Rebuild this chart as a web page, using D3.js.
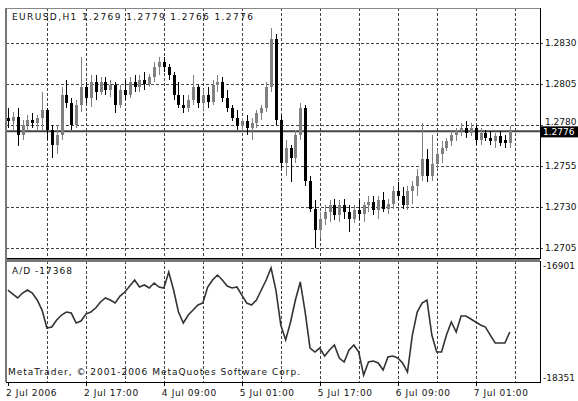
<!DOCTYPE html>
<html>
<head>
<meta charset="utf-8">
<script src="https://cdn.jsdelivr.net/npm/d3@7"></script>
<style>
  body { margin: 0; background: #fff; }
  svg { display: block; }
  text { font-family: "DejaVu Sans", sans-serif; font-size: 9px; fill: #111; }
</style>
</head>
<body>
<div id="chart"></div>
<script>
// EURUSD H1 candles, 3 Jul 2006 01:00 onwards
const open = [1.2784, 1.2782, 1.2785, 1.2774, 1.2780, 1.2783, 1.2781, 1.2784, 1.2789, 1.2777,
  1.2768, 1.2774, 1.2798, 1.2793, 1.2780, 1.2792, 1.2803, 1.2796, 1.2806, 1.2800,
  1.2806, 1.2801, 1.2804, 1.2792, 1.2801, 1.2798, 1.2806, 1.2803, 1.2807, 1.2805,
  1.2809, 1.2815, 1.2818, 1.2815, 1.2810, 1.2798, 1.2792, 1.2790, 1.2795, 1.2803,
  1.2793, 1.2798, 1.2794, 1.2804, 1.2806, 1.2796, 1.2790, 1.2784, 1.2779, 1.2782,
  1.2778, 1.2781, 1.2787, 1.2790, 1.2803, 1.2832, 1.2783, 1.2757, 1.2766, 1.2760,
  1.2774, 1.2790, 1.2746, 1.2729, 1.2716, 1.2723, 1.2727, 1.2731, 1.2725, 1.2731,
  1.2727, 1.2723, 1.2728, 1.2726, 1.2731, 1.2733, 1.2728, 1.2734, 1.2729, 1.2732,
  1.2740, 1.2737, 1.2731, 1.2740, 1.2743, 1.2749, 1.2759, 1.2749, 1.2756, 1.2762,
  1.2766, 1.2770, 1.2774, 1.2777, 1.2778, 1.2775, 1.2778, 1.2771, 1.2775, 1.2772,
  1.2770, 1.2773, 1.2771, 1.2769]
const high = [1.2790, 1.2788, 1.2790, 1.2783, 1.2786, 1.2787, 1.2786, 1.2800, 1.2790, 1.2780,
  1.2780, 1.2803, 1.2807, 1.2796, 1.2795, 1.2821, 1.2806, 1.2810, 1.2810, 1.2809,
  1.2809, 1.2807, 1.2806, 1.2804, 1.2807, 1.2809, 1.2810, 1.2810, 1.2812, 1.2811,
  1.2818, 1.2821, 1.2821, 1.2817, 1.2812, 1.2806, 1.2798, 1.2798, 1.2810, 1.2804,
  1.2801, 1.2803, 1.2807, 1.2810, 1.2809, 1.2801, 1.2792, 1.2789, 1.2784, 1.2786,
  1.2784, 1.2789, 1.2792, 1.2806, 1.2839, 1.2835, 1.2786, 1.2771, 1.2768, 1.2777,
  1.2793, 1.2792, 1.2749, 1.2734, 1.2727, 1.2731, 1.2734, 1.2735, 1.2734, 1.2735,
  1.2731, 1.2731, 1.2734, 1.2733, 1.2737, 1.2737, 1.2737, 1.2739, 1.2735, 1.2743,
  1.2745, 1.2742, 1.2743, 1.2746, 1.2753, 1.2781, 1.2765, 1.2774, 1.2765, 1.2770,
  1.2772, 1.2777, 1.2778, 1.2781, 1.2782, 1.2781, 1.2780, 1.2778, 1.2777, 1.2776,
  1.2775, 1.2776, 1.2774, 1.2779]
const low = [1.2778, 1.2777, 1.2767, 1.2771, 1.2777, 1.2778, 1.2777, 1.2776, 1.2771, 1.2760,
  1.2762, 1.2771, 1.2790, 1.2777, 1.2778, 1.2788, 1.2793, 1.2791, 1.2795, 1.2798,
  1.2798, 1.2797, 1.2787, 1.2790, 1.2795, 1.2796, 1.2800, 1.2800, 1.2801, 1.2803,
  1.2806, 1.2810, 1.2812, 1.2807, 1.2795, 1.2790, 1.2787, 1.2788, 1.2792, 1.2790,
  1.2789, 1.2790, 1.2792, 1.2800, 1.2794, 1.2788, 1.2782, 1.2777, 1.2776, 1.2774,
  1.2771, 1.2778, 1.2783, 1.2788, 1.2800, 1.2780, 1.2754, 1.2749, 1.2745, 1.2757,
  1.2771, 1.2743, 1.2727, 1.2705, 1.2711, 1.2719, 1.2721, 1.2722, 1.2721, 1.2723,
  1.2715, 1.2720, 1.2722, 1.2721, 1.2727, 1.2725, 1.2723, 1.2727, 1.2726, 1.2729,
  1.2734, 1.2729, 1.2728, 1.2732, 1.2737, 1.2746, 1.2745, 1.2746, 1.2753, 1.2757,
  1.2764, 1.2767, 1.2770, 1.2773, 1.2772, 1.2773, 1.2768, 1.2768, 1.2770, 1.2768,
  1.2766, 1.2767, 1.2766, 1.2766]
const close = [1.2782, 1.2785, 1.2774, 1.2780, 1.2783, 1.2781, 1.2784, 1.2789, 1.2777, 1.2768,
  1.2774, 1.2798, 1.2793, 1.2780, 1.2792, 1.2803, 1.2796, 1.2806, 1.2800, 1.2806,
  1.2801, 1.2804, 1.2792, 1.2801, 1.2798, 1.2806, 1.2803, 1.2807, 1.2805, 1.2809,
  1.2815, 1.2818, 1.2815, 1.2810, 1.2798, 1.2792, 1.2790, 1.2795, 1.2803, 1.2793,
  1.2798, 1.2794, 1.2804, 1.2806, 1.2796, 1.2790, 1.2784, 1.2779, 1.2782, 1.2778,
  1.2781, 1.2787, 1.2790, 1.2803, 1.2832, 1.2783, 1.2757, 1.2766, 1.2760, 1.2774,
  1.2790, 1.2746, 1.2729, 1.2716, 1.2723, 1.2727, 1.2731, 1.2725, 1.2731, 1.2727,
  1.2723, 1.2728, 1.2726, 1.2731, 1.2733, 1.2728, 1.2734, 1.2729, 1.2732, 1.2740,
  1.2737, 1.2731, 1.2740, 1.2743, 1.2749, 1.2759, 1.2749, 1.2756, 1.2762, 1.2766,
  1.2770, 1.2774, 1.2777, 1.2778, 1.2775, 1.2778, 1.2771, 1.2775, 1.2772, 1.2770,
  1.2773, 1.2769, 1.2769, 1.2776]

// Accumulation/Distribution, one value per bar
const ad = [-17212, -17264, -17315, -17251, -17212, -17251, -17341, -17471, -17704, -17691,
  -17600, -17536, -17497, -17510, -17639, -17613, -17523, -17497, -17445, -17367,
  -17315, -17341, -17380, -17290, -17238, -17160, -17082, -17173, -17147, -17186,
  -17121, -17173, -17186, -16979, -17212, -17497, -17639, -17536, -17471, -17406,
  -17380, -17173, -17082, -17018, -17082, -17160, -17186, -17173, -17277, -17380,
  -17406, -17341, -17212, -17082, -16927, -17212, -17665, -17859, -17626, -17341,
  -17108, -17497, -17963, -18015, -17963, -18067, -17989, -17924, -18092, -18144,
  -17989, -17924, -18015, -18313, -18144, -18131, -18157, -18248, -18079, -18067,
  -18092, -18157, -18274, -17795, -17497, -17380, -17341, -17795, -18015, -18015,
  -17795, -17626, -17756, -17548, -17548, -17587, -17626, -17665, -17691, -17795,
  -17898, -17898, -17898, -17756]

const priceTicks = [1.2830, 1.2805, 1.2780, 1.2755, 1.2730, 1.2705]
const adTicks = [-16901, -18351]
const timeTickBars = [0, 16, 32, 48, 64, 80, 96]
const timeTickLabels = ['2 Jul 2006', '2 Jul 17:00', '4 Jul 09:00', '5 Jul 01:00',
  '5 Jul 17:00', '6 Jul 09:00', '7 Jul 01:00']
const gridBars = [8, 16, 24, 32, 40, 48, 56, 64, 72, 80, 88, 96, 104]
const lastPrice = 1.2776

const W = 578, H = 401
const left = 6, right = 540
const mainTop = 8, mainBottom = 258
const subTop = 261, subBottom = 382

const svg = d3.select('#chart').append('svg')
  .attr('width', W).attr('height', H)

const x = d3.scaleLinear().domain([-0.4, 109.2]).range([left, right])
const y = d3.scaleLinear().domain([1.2699, 1.2851]).range([mainBottom, mainTop])
const yAd = d3.scaleLinear().domain([-18351, -16901]).range([378, 266])

const bars = d3.range(open.length).map(i => ({
  i, o: open[i], h: high[i], l: low[i], c: close[i]
}))

// grid
const grid = svg.append('g')
  .attr('stroke', '#444').attr('stroke-width', 1)
  .attr('stroke-dasharray', '3,2').attr('shape-rendering', 'crispEdges')

grid.selectAll('.hg').data(priceTicks).enter().append('line')
  .attr('x1', left).attr('x2', right + 3)
  .attr('y1', d => Math.round(y(d)) + 0.5).attr('y2', d => Math.round(y(d)) + 0.5)

grid.selectAll('.vg').data(gridBars).enter().append('line')
  .attr('x1', d => Math.round(x(d)) + 0.5).attr('x2', d => Math.round(x(d)) + 0.5)
  .attr('y1', mainTop).attr('y2', mainBottom)

grid.selectAll('.vg2').data(gridBars).enter().append('line')
  .attr('x1', d => Math.round(x(d)) + 0.5).attr('x2', d => Math.round(x(d)) + 0.5)
  .attr('y1', subTop).attr('y2', subBottom)

// current price line
svg.append('line')
  .attr('x1', left).attr('x2', right)
  .attr('y1', y(lastPrice)).attr('y2', y(lastPrice))
  .attr('stroke', '#444').attr('stroke-width', 2)

// candles
const colour = d => d.c >= d.o ? '#808080' : '#000'
const candles = svg.append('g').attr('shape-rendering', 'crispEdges')

candles.selectAll('.wick').data(bars).enter().append('line')
  .attr('x1', d => Math.round(x(d.i)) + 0.5).attr('x2', d => Math.round(x(d.i)) + 0.5)
  .attr('y1', d => y(d.h)).attr('y2', d => y(d.l))
  .attr('stroke', colour)

candles.selectAll('.body').data(bars).enter().append('rect')
  .attr('x', d => Math.round(x(d.i)) - 1)
  .attr('width', 3)
  .attr('y', d => y(Math.max(d.o, d.c)))
  .attr('height', d => Math.max(1, Math.abs(y(d.o) - y(d.c))))
  .attr('fill', colour)

// A/D line
svg.append('path')
  .datum(ad)
  .attr('fill', 'none')
  .attr('stroke', '#333')
  .attr('stroke-width', 1.6)
  .attr('d', d3.line().x((d, i) => x(i)).y(d => yAd(d)))

// frames
const frame = svg.append('g').attr('fill', 'none').attr('shape-rendering', 'crispEdges')
frame.append('rect').attr('x', left + 0.5).attr('y', mainTop + 0.5)
  .attr('width', right - left).attr('height', mainBottom - mainTop)
  .attr('stroke', '#000')
frame.append('rect').attr('x', left + 0.5).attr('y', subTop + 0.5)
  .attr('width', right - left).attr('height', subBottom - subTop)
  .attr('stroke', '#000')
frame.append('line').attr('x1', left).attr('x2', left)
  .attr('y1', mainTop).attr('y2', subBottom).attr('stroke', '#777').attr('stroke-width', 2)
frame.append('line').attr('x1', left).attr('x2', right)
  .attr('y1', mainTop).attr('y2', mainTop).attr('stroke', '#888').attr('stroke-width', 1)
frame.append('line').attr('x1', left).attr('x2', right)
  .attr('y1', (mainBottom + subTop) / 2 + 0.5).attr('y2', (mainBottom + subTop) / 2 + 0.5)
  .attr('stroke', '#777').attr('stroke-width', 3)

// right price axis (the label under the current-price box peeks out above it)
svg.selectAll('.pl').data(priceTicks).enter().append('text')
  .attr('x', right + 5)
  .attr('y', d => Math.abs(d - lastPrice) < 0.0008 ? y(lastPrice) - 6 : y(d) + 3)
  .text(d => d.toFixed(4))

svg.append('rect')
  .attr('x', right + 1).attr('y', y(lastPrice) - 5)
  .attr('width', W - right - 1).attr('height', 11)
  .attr('fill', '#000')
svg.append('text')
  .attr('x', right + 3).attr('y', y(lastPrice) + 4)
  .style('fill', '#fff')
  .text(lastPrice.toFixed(4))

// A/D axis
svg.selectAll('.al').data(adTicks).enter().append('text')
  .attr('x', right + 3).attr('y', d => yAd(d) + 3)
  .text(d => d)

// time axis
svg.selectAll('.tt').data(timeTickBars).enter().append('line')
  .attr('x1', d => Math.round(x(d)) + 0.5).attr('x2', d => Math.round(x(d)) + 0.5)
  .attr('y1', subBottom).attr('y2', subBottom + 4)
  .attr('stroke', '#000').attr('shape-rendering', 'crispEdges')
svg.selectAll('.tl').data(timeTickBars).enter().append('text')
  .attr('x', d => x(d) - 2).attr('y', subBottom + 14)
  .style('letter-spacing', '0.6px')
  .text((d, i) => timeTickLabels[i])

// captions
svg.append('text').attr('x', 12).attr('y', 20)
  .style('letter-spacing', '1.4px')
  .text('EURUSD,H1 ' + [open, high, low, close].map(a => a[a.length - 1].toFixed(4)).join(' '))
svg.append('text').attr('x', 12).attr('y', 274)
  .style('letter-spacing', '1px')
  .text('A/D -17368')
svg.append('text').attr('x', 8).attr('y', 375)
  .style('letter-spacing', '1px')
  .text('MetaTrader, © 2001-2006 MetaQuotes Software Corp.')
</script>
</body>
</html>
